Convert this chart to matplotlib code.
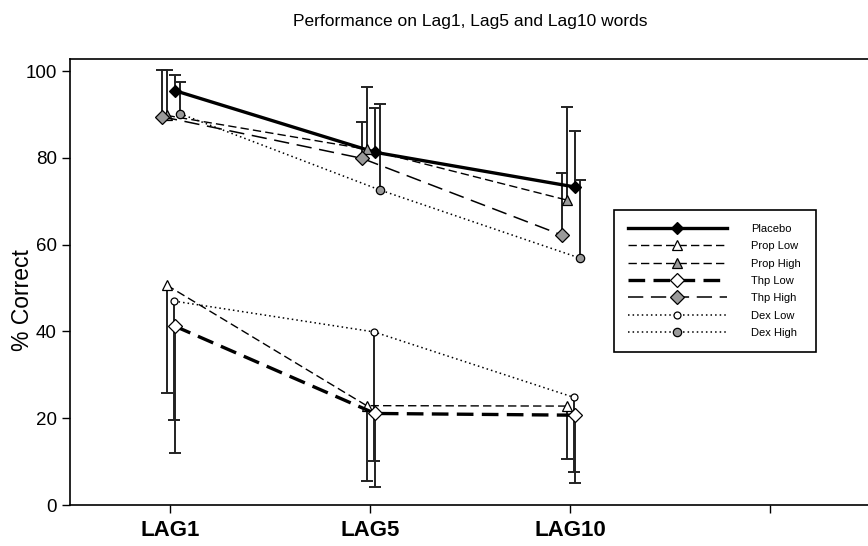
import matplotlib.pyplot as plt
import numpy as np

plt.rcParams['font.family'] = ['Liberation Sans', 'DejaVu Sans']

# Datos
lags = ['LAG1', 'LAG5', 'LAG10']
series = ['Placebo', 'Prop Low', 'Prop High', 'Thp Low', 'Thp High', 'Dex Low', 'Dex High']

placebo = [95.5, 81.3, 73.3]
prop_low = [50.7, 22.9, 22.8]
prop_high = [89.8, 82.0, 70.3]
thp_low = [41.2, 21.1, 20.7]
thp_high = [89.5, 79.9, 62.2]
dex_low = [47.0, 39.9, 24.8]
dex_high = [90.2, 72.6, 56.9]

# extremo de la barra de error (hacia arriba o hacia abajo)
placebo_err = [99.1, 91.5, 86.2]
prop_low_err = [25.9, 5.6, 10.6]
prop_high_err = [100.2, 96.3, 91.8]
thp_low_err = [12.1, 4.2, 5.1]
thp_high_err = [100.2, 88.3, 76.5]
dex_low_err = [19.6, 10.1, 7.5]
dex_high_err = [97.4, 92.4, 74.9]

values = [placebo, prop_low, prop_high, thp_low, thp_high, dex_low, dex_high]
errors = [placebo_err, prop_low_err, prop_high_err, thp_low_err,
          thp_high_err, dex_low_err, dex_high_err]

grey = '#9a9a9a'
# estilo por serie: desplazamiento x, linea, marcador
styles = {
    'Placebo':   dict(dx=0.025, ls='-', lw=2.4, marker='D', ms=6, mfc='black'),
    'Prop Low':  dict(dx=-0.017, ls=(0, (6, 3)), lw=1.0, marker='^', ms=7, mfc='white'),
    'Prop High': dict(dx=-0.017, ls=(0, (6, 3)), lw=1.0, marker='^', ms=7, mfc=grey),
    'Thp Low':   dict(dx=0.025, ls=(0, (5, 2.5)), lw=2.4, marker='D', ms=7, mfc='white'),
    'Thp High':  dict(dx=-0.04, ls=(0, (10, 5)), lw=1.1, marker='D', ms=7, mfc=grey),
    'Dex Low':   dict(dx=0.02, ls=(0, (1, 2)), lw=1.1, marker='o', ms=5, mfc='white'),
    'Dex High':  dict(dx=0.05, ls=(0, (1, 2)), lw=1.1, marker='o', ms=6, mfc=grey),
}

fig = plt.figure(figsize=(8.68, 5.46), dpi=100)
ax = fig.add_axes([70 / 868, 41 / 546, 800 / 868, 446 / 546])

x = np.arange(1, len(lags) + 1)
for name, vals, errs in zip(series, values, errors):
    st = styles[name]
    xs = x + st['dx']
    ax.vlines(xs, vals, errs, color='#222222', lw=1.4, zorder=2)
    ax.plot(xs, errs, ls='none', marker='_', ms=8, mew=1.4, color='#222222', zorder=2)
    ax.plot(xs, vals, color='black', ls=st['ls'], lw=st['lw'], marker=st['marker'],
            ms=st['ms'], mfc=st['mfc'], mec='black', mew=0.9, label=name, zorder=3)

ax.set_xlim(0.5, 4.5)
ax.set_ylim(0, 102.8)
ax.set_xticks([1, 2, 3, 4])
ax.set_xticklabels(lags + [''], fontsize=16, fontweight='bold')
ax.set_yticks([0, 20, 40, 60, 80, 100])
ax.tick_params(axis='y', labelsize=13.5, length=6, width=1)
ax.tick_params(axis='x', length=6, width=1, pad=5)
for sp in ax.spines.values():
    sp.set_linewidth(1.2)

ax.set_ylabel('% Correct', fontsize=16.5)
ax.yaxis.set_label_coords(-0.045, 0.46)
ax.set_title('Performance on Lag1, Lag5 and Lag10 words', fontsize=12.5, pad=24)

leg = ax.legend(loc='upper left', bbox_to_anchor=(0.6725, 0.675), fontsize=8,
                handlelength=8.9, numpoints=1, labelspacing=0.66,
                fancybox=False, framealpha=1, edgecolor='black',
                borderpad=1.3, handletextpad=2.2)
leg.get_frame().set_linewidth(1.2)

fig.savefig('out.png', dpi=100)
